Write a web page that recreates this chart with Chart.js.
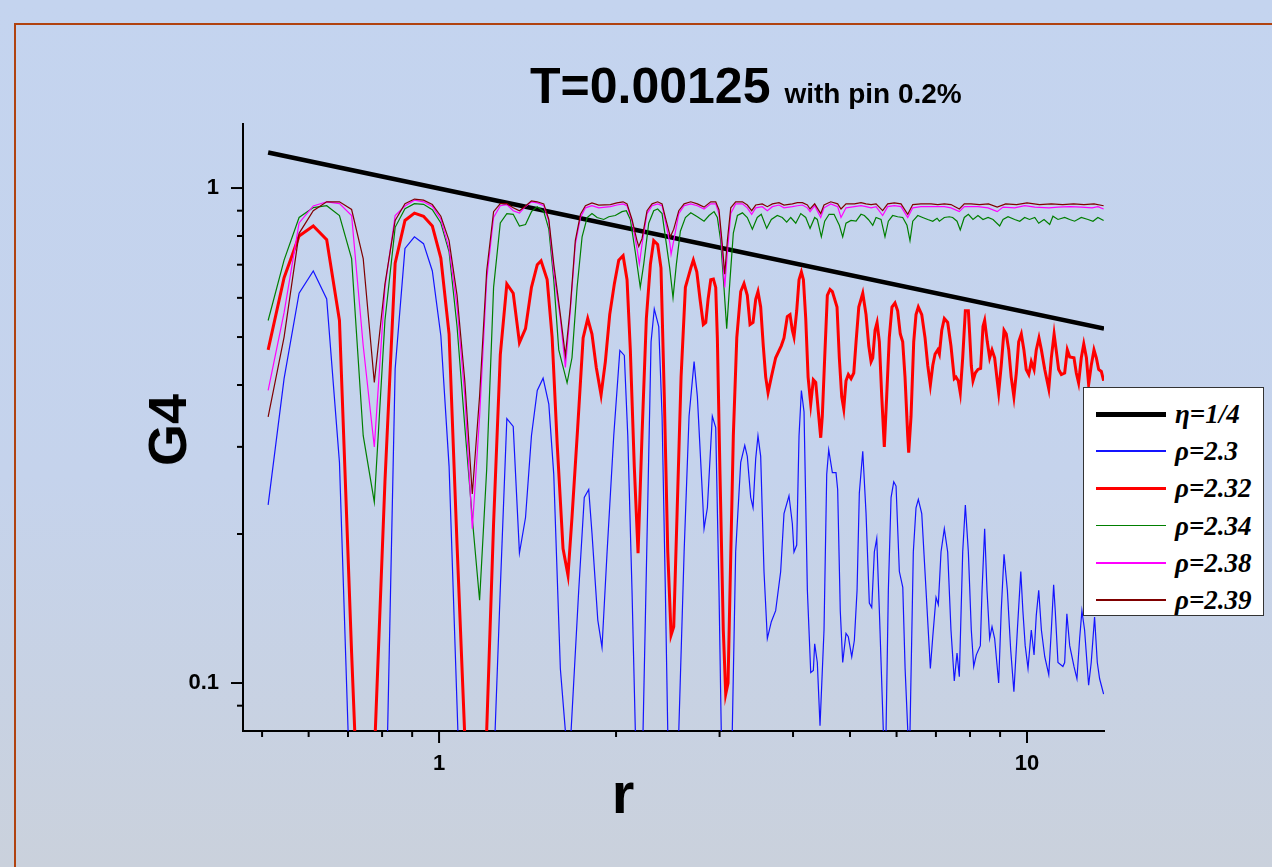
<!DOCTYPE html>
<html>
<head>
<meta charset="utf-8">
<script src="https://cdn.jsdelivr.net/npm/chart.js@4.4.0/dist/chart.umd.min.js"></script>
<style>
  html, body { margin: 0; padding: 0; }
  body {
    width: 1272px; height: 867px; overflow: hidden; position: relative;
    background: linear-gradient(to bottom, #c4d4ef 0%, #c5d3ec 55%, #cad1dc 100%);
    font-family: "Liberation Sans", Arial, sans-serif;
  }
  #frame { position: absolute; left: 14px; top: 23px; width: 1400px; height: 1000px;
    border: 2px solid #b0420f; box-sizing: border-box; }
  #plot { position: absolute; left: 0; top: 0; }
  .lbl { position: absolute; font-weight: bold; color: #000; white-space: nowrap; }
  #title { left: 530px; top: 61px; font-size: 50px; line-height: 50px; }
  #title small { font-size: 28px; }
  #ylab { left: 167px; top: 430px; font-size: 54px; line-height: 54px;
    transform: translate(-50%, -50%) rotate(-90deg); }
  #xlab { left: 623px; top: 764px; font-size: 58px; line-height: 58px; transform: translateX(-50%); }
  #legend { position: absolute; left: 1083px; top: 387px; width: 181px; height: 229px;
    background: #fff; border: 1.5px solid #333; box-sizing: border-box; }
  .row { position: absolute; left: 0; width: 100%; height: 30px; }
  .row .ln { position: absolute; left: 12px; width: 70px; top: 50%; }
  .row .tx { position: absolute; left: 91px; top: 0; line-height: 30px;
    font-family: "Liberation Serif", "Times New Roman", serif; font-style: italic; font-weight: bold;
    font-size: 27px; color: #000; }
</style>
</head>
<body>
<div id="frame"></div>
<canvas id="plot" width="1272" height="867"></canvas>
<div class="lbl" id="title">T=0.00125 <small>with pin 0.2%</small></div>
<div class="lbl" id="ylab">G4</div>
<div class="lbl" id="xlab">r</div>
<div id="legend"></div>
<script>
// sampled r grid used by the left part of every curve
const rGrid = [0.512, 0.545, 0.578, 0.611, 0.644, 0.677, 0.710, 0.743, 0.776, 0.809,
  0.842, 0.875, 0.908, 0.941, 0.974, 1.007, 1.040, 1.073, 1.106, 1.139,
  1.172, 1.205, 1.238, 1.271, 1.304, 1.337, 1.370, 1.403, 1.436, 1.469];

const blueLeft = [0.229, 0.412, 0.613, 0.680, 0.597, 0.279, 0.048, 0.02, 0.02, 0.044,
  0.431, 0.755, 0.797, 0.772, 0.68, 0.503, 0.274, 0.09, 0.03, 0.02,
  0.02, 0.02, 0.066, 0.155, 0.342, 0.33, 0.183, 0.216, 0.316, 0.39];
const redLeft = [0.471, 0.659, 0.80, 0.838, 0.786, 0.540, 0.115, 0.03, 0.071, 0.255,
  0.705, 0.86, 0.89, 0.877, 0.838, 0.722, 0.507, 0.19, 0.078, 0.03,
  0.03, 0.08, 0.21, 0.46, 0.64, 0.613, 0.487, 0.52, 0.63, 0.70];
const greenLeft = [0.54, 0.715, 0.872, 0.913, 0.921, 0.88, 0.72, 0.316, 0.232, 0.54,
  0.833, 0.908, 0.93, 0.927, 0.904, 0.85, 0.743, 0.525, 0.33, 0.215,
  0.147, 0.27, 0.63, 0.85, 0.888, 0.885, 0.838, 0.844, 0.896, 0.917];
const magentaLeft = [0.39, 0.56, 0.85, 0.92, 0.938, 0.93, 0.88, 0.48, 0.30, 0.63,
  0.88, 0.92, 0.945, 0.938, 0.918, 0.865, 0.755, 0.575, 0.38, 0.205,
  0.345, 0.653, 0.872, 0.921, 0.926, 0.90, 0.89, 0.918, 0.938, 0.933];
const brownLeft = [0.345, 0.50, 0.81, 0.90, 0.938, 0.938, 0.905, 0.72, 0.405, 0.64,
  0.86, 0.93, 0.95, 0.945, 0.926, 0.877, 0.783, 0.607, 0.408, 0.241,
  0.38, 0.68, 0.896, 0.93, 0.93, 0.912, 0.90, 0.92, 0.942, 0.938];

// [r, G4] beyond the grid
const blueTail = [[1.503,0.413],[1.537,0.366],[1.567,0.264],[1.608,0.107],[1.640,0.08],[1.657,0.05],[1.677,0.08],
  [1.728,0.154],[1.766,0.237],[1.797,0.246],[1.820,0.201],[1.862,0.134],[1.893,0.118],[1.931,0.184],[1.982,0.316],
  [2.030,0.47],[2.066,0.459],[2.094,0.316],[2.129,0.154],[2.157,0.08],[2.188,0.05],[2.223,0.08],[2.294,0.489],
  [2.323,0.57],[2.364,0.525],[2.395,0.346],[2.426,0.154],[2.449,0.08],[2.50,0.05],[2.557,0.08],[2.611,0.184],
  [2.662,0.346],[2.715,0.446],[2.750,0.379],[2.804,0.242],[2.823,0.205],[2.860,0.226],[2.916,0.346],[2.955,0.328],
  [2.993,0.154],[3.020,0.08],[3.085,0.05],[3.153,0.08],[3.195,0.184],[3.259,0.279],[3.311,0.302],[3.344,0.287],
  [3.389,0.237],[3.420,0.226],[3.456,0.284],[3.487,0.316],[3.524,0.287],[3.570,0.168],[3.617,0.123],[3.674,0.133],
  [3.737,0.14],[3.811,0.168],[3.861,0.22],[3.937,0.239],[3.989,0.21],[4.015,0.184],[4.058,0.19],[4.095,0.316],
  [4.133,0.39],[4.176,0.353],[4.231,0.154],[4.287,0.105],[4.331,0.106],[4.354,0.12],[4.399,0.11],[4.446,0.082],
  [4.516,0.128],[4.564,0.264],[4.600,0.296],[4.666,0.266],[4.733,0.266],[4.764,0.246],[4.813,0.14],[4.859,0.11],
  [4.922,0.126],[4.967,0.124],[5.034,0.113],[5.086,0.122],[5.140,0.154],[5.186,0.242],[5.256,0.294],[5.324,0.22],
  [5.393,0.145],[5.444,0.142],[5.500,0.184],[5.552,0.196],[5.609,0.14],[5.697,0.08],[5.719,0.06],[5.758,0.08],
  [5.810,0.154],[5.872,0.237],[5.934,0.255],[5.988,0.25],[6.066,0.168],[6.148,0.156],[6.204,0.107],[6.270,0.08],
  [6.294,0.06],[6.324,0.08],[6.407,0.184],[6.475,0.226],[6.534,0.235],[6.622,0.22],[6.734,0.154],[6.849,0.107],
  [6.914,0.124],[7.003,0.149],[7.066,0.144],[7.141,0.184],[7.234,0.205],[7.330,0.184],[7.425,0.128],[7.522,0.101],
  [7.603,0.115],[7.672,0.103],[7.774,0.184],[7.855,0.229],[7.948,0.184],[8.04,0.128],[8.116,0.108],[8.2,0.114],
  [8.33,0.119],[8.386,0.154],[8.472,0.205],[8.55,0.154],[8.64,0.123],[8.72,0.13],[8.81,0.123],[8.95,0.1],
  [9.04,0.14],[9.14,0.182],[9.26,0.154],[9.38,0.117],[9.50,0.096],[9.63,0.128],[9.76,0.168],[9.84,0.14],
  [9.93,0.119],[10.04,0.107],[10.17,0.128],[10.28,0.114],[10.37,0.137],[10.47,0.154],[10.58,0.128],[10.72,0.113],
  [10.89,0.104],[11.0,0.128],[11.1,0.158],[11.17,0.14],[11.29,0.11],[11.51,0.108],[11.59,0.11],[11.69,0.138],
  [11.82,0.119],[12.02,0.108],[12.16,0.102],[12.29,0.123],[12.40,0.14],[12.53,0.128],[12.73,0.099],[12.86,0.11],
  [13.03,0.136],[13.17,0.11],[13.29,0.102],[13.5,0.095]];

const redTail = [[1.491,0.713],[1.527,0.653],[1.557,0.50],[1.588,0.305],[1.625,0.187],[1.657,0.165],[1.683,0.216],
  [1.721,0.328],[1.758,0.498],[1.790,0.545],[1.820,0.507],[1.851,0.434],[1.886,0.382],[1.918,0.446],[1.951,0.555],
  [1.987,0.641],[2.021,0.715],[2.056,0.73],[2.088,0.653],[2.115,0.471],[2.148,0.274],[2.180,0.183],[2.214,0.316],
  [2.252,0.545],[2.288,0.702],[2.318,0.783],[2.354,0.769],[2.385,0.689],[2.416,0.379],[2.449,0.184],[2.481,0.125],
  [2.507,0.13],[2.540,0.22],[2.580,0.415],[2.624,0.63],[2.680,0.689],[2.707,0.715],[2.744,0.677],[2.779,0.596],
  [2.815,0.53],[2.842,0.535],[2.868,0.596],[2.898,0.653],[2.928,0.655],[2.955,0.63],[2.974,0.498],[3.005,0.264],
  [3.044,0.128],[3.073,0.095],[3.101,0.1],[3.125,0.154],[3.166,0.316],[3.209,0.498],[3.259,0.618],[3.301,0.641],
  [3.344,0.607],[3.380,0.53],[3.420,0.535],[3.456,0.596],[3.487,0.618],[3.524,0.575],[3.560,0.48],[3.594,0.415],
  [3.627,0.386],[3.674,0.415],[3.737,0.454],[3.820,0.48],[3.861,0.498],[3.911,0.55],[3.953,0.555],[3.989,0.516],
  [4.015,0.5],[4.058,0.565],[4.095,0.653],[4.133,0.677],[4.166,0.653],[4.204,0.545],[4.243,0.415],[4.287,0.366],
  [4.331,0.41],[4.372,0.405],[4.417,0.353],[4.458,0.313],[4.486,0.346],[4.528,0.454],[4.575,0.607],[4.624,0.624],
  [4.666,0.618],[4.752,0.575],[4.795,0.454],[4.840,0.379],[4.879,0.358],[4.922,0.408],[4.967,0.42],[5.020,0.412],
  [5.074,0.423],[5.120,0.489],[5.175,0.575],[5.256,0.613],[5.324,0.555],[5.381,0.48],[5.430,0.446],[5.466,0.454],
  [5.515,0.516],[5.559,0.535],[5.609,0.489],[5.662,0.379],[5.719,0.30],[5.772,0.379],[5.831,0.498],[5.893,0.575],
  [5.963,0.586],[6.026,0.565],[6.088,0.507],[6.146,0.489],[6.202,0.415],[6.268,0.316],[6.292,0.292],[6.350,0.346],
  [6.417,0.489],[6.475,0.555],[6.534,0.575],[6.622,0.555],[6.708,0.498],[6.780,0.438],[6.849,0.40],[6.914,0.438],
  [6.977,0.462],[7.051,0.471],[7.095,0.462],[7.162,0.516],[7.234,0.545],[7.330,0.535],[7.425,0.48],[7.522,0.412],
  [7.572,0.415],[7.640,0.408],[7.700,0.386],[7.774,0.454],[7.855,0.565],[7.948,0.565],[7.989,0.507],[8.04,0.438],
  [8.094,0.408],[8.167,0.423],[8.253,0.43],[8.34,0.432],[8.417,0.525],[8.472,0.54],[8.56,0.489],[8.64,0.454],
  [8.72,0.471],[8.81,0.454],[8.90,0.408],[8.95,0.386],[9.04,0.438],[9.14,0.516],[9.22,0.507],[9.31,0.471],
  [9.40,0.415],[9.50,0.379],[9.59,0.423],[9.68,0.489],[9.78,0.507],[9.88,0.471],[9.97,0.43],[10.07,0.42],
  [10.17,0.446],[10.28,0.43],[10.37,0.471],[10.48,0.498],[10.58,0.471],[10.72,0.43],[10.89,0.393],[11.0,0.454],
  [11.12,0.507],[11.21,0.471],[11.32,0.43],[11.44,0.42],[11.59,0.423],[11.71,0.471],[11.82,0.456],[12.02,0.454],
  [12.13,0.423],[12.24,0.404],[12.37,0.454],[12.49,0.484],[12.62,0.454],[12.73,0.401],[12.86,0.438],[13.0,0.471],
  [13.12,0.454],[13.24,0.43],[13.38,0.426],[13.5,0.408]];

const greenTail = [[1.507,0.896],[1.537,0.826],[1.567,0.653],[1.598,0.471],[1.651,0.404],[1.683,0.454],[1.717,0.63],
  [1.751,0.797],[1.786,0.872],[1.820,0.888],[1.857,0.872],[1.906,0.864],[1.944,0.875],[1.994,0.88],[2.047,0.896],
  [2.082,0.9],[2.115,0.864],[2.157,0.741],[2.199,0.63],[2.229,0.702],[2.273,0.849],[2.318,0.9],[2.354,0.907],
  [2.395,0.888],[2.426,0.797],[2.468,0.689],[2.50,0.6],[2.533,0.702],[2.573,0.818],[2.624,0.872],[2.680,0.891],
  [2.750,0.875],[2.823,0.857],[2.879,0.88],[2.936,0.896],[2.974,0.872],[3.013,0.783],[3.052,0.63],[3.085,0.52],
  [3.125,0.653],[3.166,0.811],[3.217,0.88],[3.281,0.891],[3.344,0.872],[3.411,0.826],[3.477,0.872],[3.532,0.885],
  [3.608,0.829],[3.674,0.864],[3.761,0.88],[3.835,0.872],[3.902,0.853],[3.964,0.872],[4.043,0.849],[4.123,0.888],
  [4.204,0.872],[4.276,0.829],[4.354,0.872],[4.399,0.864],[4.469,0.797],[4.528,0.857],[4.607,0.885],[4.697,0.885],
  [4.795,0.841],[4.859,0.797],[4.922,0.849],[5.020,0.86],[5.120,0.857],[5.220,0.885],[5.289,0.88],[5.372,0.864],
  [5.466,0.841],[5.537,0.872],[5.646,0.864],[5.734,0.797],[5.810,0.857],[5.909,0.88],[6.026,0.875],[6.146,0.872],
  [6.250,0.841],[6.324,0.783],[6.393,0.857],[6.52,0.88],[6.645,0.872],[6.780,0.864],[6.914,0.857],[7.031,0.869],
  [7.095,0.857],[7.234,0.872],[7.377,0.875],[7.474,0.872],[7.603,0.857],[7.700,0.823],[7.823,0.872],[7.948,0.885],
  [8.094,0.864],[8.253,0.88],[8.417,0.864],[8.586,0.872],[8.755,0.864],[8.985,0.838],[9.104,0.864],[9.284,0.875],
  [9.53,0.864],[9.72,0.857],[9.91,0.872],[10.1,0.864],[10.31,0.872],[10.47,0.849],[10.69,0.864],[10.93,0.844],
  [11.07,0.877],[11.29,0.864],[11.59,0.872],[11.82,0.864],[12.05,0.857],[12.37,0.872],[12.7,0.864],[12.95,0.857],
  [13.2,0.872],[13.5,0.86]];

const magentaTail = [[1.507,0.921],[1.537,0.857],[1.567,0.677],[1.608,0.545],[1.640,0.434],[1.672,0.565],[1.705,0.769],
  [1.740,0.872],[1.774,0.912],[1.820,0.921],[1.869,0.912],[1.956,0.917],[2.007,0.924],[2.056,0.929],[2.088,0.921],
  [2.129,0.857],[2.171,0.755],[2.191,0.702],[2.214,0.769],[2.258,0.888],[2.303,0.921],[2.354,0.929],[2.395,0.921],
  [2.426,0.857],[2.468,0.776],[2.481,0.735],[2.507,0.783],[2.557,0.888],[2.611,0.921],[2.680,0.929],[2.750,0.921],
  [2.823,0.907],[2.898,0.929],[2.955,0.929],[2.993,0.888],[3.032,0.741],[3.061,0.63],[3.093,0.741],[3.134,0.888],
  [3.195,0.929],[3.281,0.929],[3.344,0.912],[3.402,0.885],[3.456,0.912],[3.546,0.917],[3.617,0.9],[3.689,0.917],
  [3.786,0.924],[3.861,0.912],[3.989,0.917],[4.069,0.921],[4.150,0.924],[4.231,0.912],[4.276,0.896],[4.354,0.921],
  [4.458,0.872],[4.516,0.912],[4.637,0.929],[4.764,0.917],[4.827,0.872],[4.922,0.912],[5.086,0.917],[5.220,0.921],
  [5.324,0.917],[5.430,0.912],[5.537,0.917],[5.682,0.88],[5.795,0.917],[5.947,0.921],[6.106,0.917],[6.268,0.872],
  [6.393,0.912],[6.60,0.917],[6.868,0.917],[7.051,0.917],[7.234,0.917],[7.425,0.912],[7.672,0.896],[7.823,0.917],
  [8.032,0.917],[8.253,0.917],[8.586,0.912],[8.90,0.896],[9.104,0.915],[9.53,0.912],[9.91,0.921],[10.31,0.915],
  [10.9,0.912],[11.29,0.915],[11.82,0.917],[12.37,0.915],[12.9,0.912],[13.2,0.917],[13.5,0.907]];

const brownTail = [[1.507,0.929],[1.537,0.864],[1.567,0.702],[1.608,0.555],[1.640,0.458],[1.672,0.575],[1.705,0.783],
  [1.740,0.885],[1.774,0.921],[1.820,0.933],[1.869,0.924],[1.956,0.926],[2.007,0.933],[2.056,0.938],[2.088,0.929],
  [2.129,0.864],[2.171,0.783],[2.186,0.762],[2.214,0.79],[2.258,0.9],[2.303,0.929],[2.354,0.938],[2.395,0.929],
  [2.426,0.872],[2.474,0.797],[2.507,0.826],[2.557,0.9],[2.611,0.929],[2.680,0.938],[2.750,0.929],[2.823,0.915],
  [2.898,0.938],[2.955,0.938],[2.993,0.904],[3.032,0.769],[3.061,0.67],[3.093,0.783],[3.134,0.912],[3.195,0.938],
  [3.281,0.938],[3.344,0.924],[3.402,0.9],[3.456,0.924],[3.546,0.929],[3.617,0.917],[3.689,0.929],[3.786,0.934],
  [3.861,0.924],[3.989,0.929],[4.069,0.934],[4.150,0.934],[4.231,0.924],[4.276,0.907],[4.354,0.929],[4.458,0.888],
  [4.516,0.924],[4.637,0.938],[4.764,0.929],[4.827,0.907],[4.922,0.929],[5.086,0.929],[5.220,0.934],[5.324,0.929],
  [5.430,0.926],[5.537,0.929],[5.682,0.9],[5.795,0.929],[5.947,0.933],[6.106,0.929],[6.268,0.885],[6.393,0.926],
  [6.60,0.929],[6.868,0.929],[7.051,0.926],[7.234,0.929],[7.425,0.926],[7.672,0.907],[7.823,0.929],[8.032,0.929],
  [8.3,0.926],[8.6,0.929],[8.9,0.915],[9.2,0.929],[9.6,0.926],[10.0,0.933],[10.5,0.926],[11.0,0.929],
  [11.5,0.926],[12.0,0.929],[12.5,0.926],[13.0,0.929],[13.5,0.921]];

// power-law guide, eta = 1/4
const etaLine = [[0.512, 1.18], [13.52, 0.52]];

const xTicks = [1, 10];
const xMinor = [0.5, 0.6, 0.7, 0.8, 0.9, 2, 3, 4, 5, 6, 7, 8, 9];
const yTicks = [0.1, 1];
const yMinor = [0.09, 0.2, 0.3, 0.4, 0.5, 0.6, 0.7, 0.8, 0.9];

const legendItems = [
  { label: 'η=1/4', color: '#000000', width: 4.5, keyWidth: 5 },
  { label: 'ρ=2.3', color: '#1414ff', width: 1.2, keyWidth: 1.6 },
  { label: 'ρ=2.32', color: '#ff0000', width: 3, keyWidth: 3.5 },
  { label: 'ρ=2.34', color: '#007f00', width: 1.2, keyWidth: 1.6 },
  { label: 'ρ=2.38', color: '#ff00ff', width: 1.2, keyWidth: 1.6 },
  { label: 'ρ=2.39', color: '#800000', width: 1.2, keyWidth: 1.6 }
];

function toPoints(rs, gs, tail) {
  const pts = [];
  for (let i = 0; i < rs.length; i++) pts.push({ x: rs[i], y: gs[i] });
  tail.forEach(p => pts.push({ x: p[0], y: p[1] }));
  return pts;
}

const seriesData = [
  etaLine.map(p => ({ x: p[0], y: p[1] })),
  toPoints(rGrid, blueLeft, blueTail),
  toPoints(rGrid, redLeft, redTail),
  toPoints(rGrid, greenLeft, greenTail),
  toPoints(rGrid, magentaLeft, magentaTail),
  toPoints(rGrid, brownLeft, brownTail)
];

const datasets = legendItems.map((item, i) => ({
  label: item.label,
  data: seriesData[i],
  borderColor: item.color,
  borderWidth: item.width,
  pointRadius: 0,
  tension: 0,
  fill: false,
  order: legendItems.length - i
}));

// minor and major tick marks outside the axes
const tickMarks = {
  id: 'tickMarks',
  afterDraw(chart) {
    const { ctx, chartArea, scales } = chart;
    ctx.save();
    ctx.strokeStyle = '#000';
    ctx.lineWidth = 2;
    const mark = (x1, y1, x2, y2) => { ctx.beginPath(); ctx.moveTo(x1, y1); ctx.lineTo(x2, y2); ctx.stroke(); };
    xMinor.forEach(v => { const x = scales.x.getPixelForValue(v); mark(x, chartArea.bottom, x, chartArea.bottom + 6); });
    xTicks.forEach(v => { const x = scales.x.getPixelForValue(v); mark(x, chartArea.bottom, x, chartArea.bottom + 12); });
    yMinor.forEach(v => { const y = scales.y.getPixelForValue(v); mark(chartArea.left, y, chartArea.left - 6, y); });
    yTicks.forEach(v => { const y = scales.y.getPixelForValue(v); mark(chartArea.left, y, chartArea.left - 12, y); });
    ctx.restore();
  }
};

const tickFont = { family: '"Liberation Sans", Arial, sans-serif', size: 22, weight: 'bold' };

new Chart(document.getElementById('plot').getContext('2d'), {
  type: 'line',
  data: { datasets: datasets },
  options: {
    responsive: false,
    animation: false,
    devicePixelRatio: 1,
    layout: { padding: { left: 0, top: 124, right: 168, bottom: 0 } },
    plugins: { legend: { display: false }, title: { display: false }, tooltip: { enabled: false } },
    scales: {
      x: {
        type: 'logarithmic',
        min: 0.464,
        max: 13.52,
        grid: { display: false },
        border: { display: true, color: '#000', width: 2 },
        afterBuildTicks: axis => { axis.ticks = xTicks.map(v => ({ value: v })); },
        afterFit: axis => { axis.height = 136; },
        ticks: { color: '#000', font: tickFont, padding: 12, maxRotation: 0, autoSkip: false,
          callback: v => String(v) }
      },
      y: {
        type: 'logarithmic',
        min: 0.08,
        max: 1.347,
        grid: { display: false },
        border: { display: true, color: '#000', width: 2 },
        afterBuildTicks: axis => { axis.ticks = yTicks.map(v => ({ value: v })); },
        afterFit: axis => { axis.width = 243; },
        ticks: { color: '#000', font: tickFont, padding: 16, autoSkip: false,
          callback: v => String(v) }
      }
    }
  },
  plugins: [tickMarks]
});

// legend box
const legend = document.getElementById('legend');
legendItems.forEach((item, i) => {
  const row = document.createElement('div');
  row.className = 'row';
  row.style.top = (11 + i * 37.2) + 'px';
  const ln = document.createElement('div');
  ln.className = 'ln';
  ln.style.height = item.keyWidth + 'px';
  ln.style.marginTop = (-item.keyWidth / 2) + 'px';
  ln.style.background = item.color;
  const tx = document.createElement('div');
  tx.className = 'tx';
  tx.textContent = item.label;
  row.appendChild(ln);
  row.appendChild(tx);
  legend.appendChild(row);
});
</script>
</body>
</html>
